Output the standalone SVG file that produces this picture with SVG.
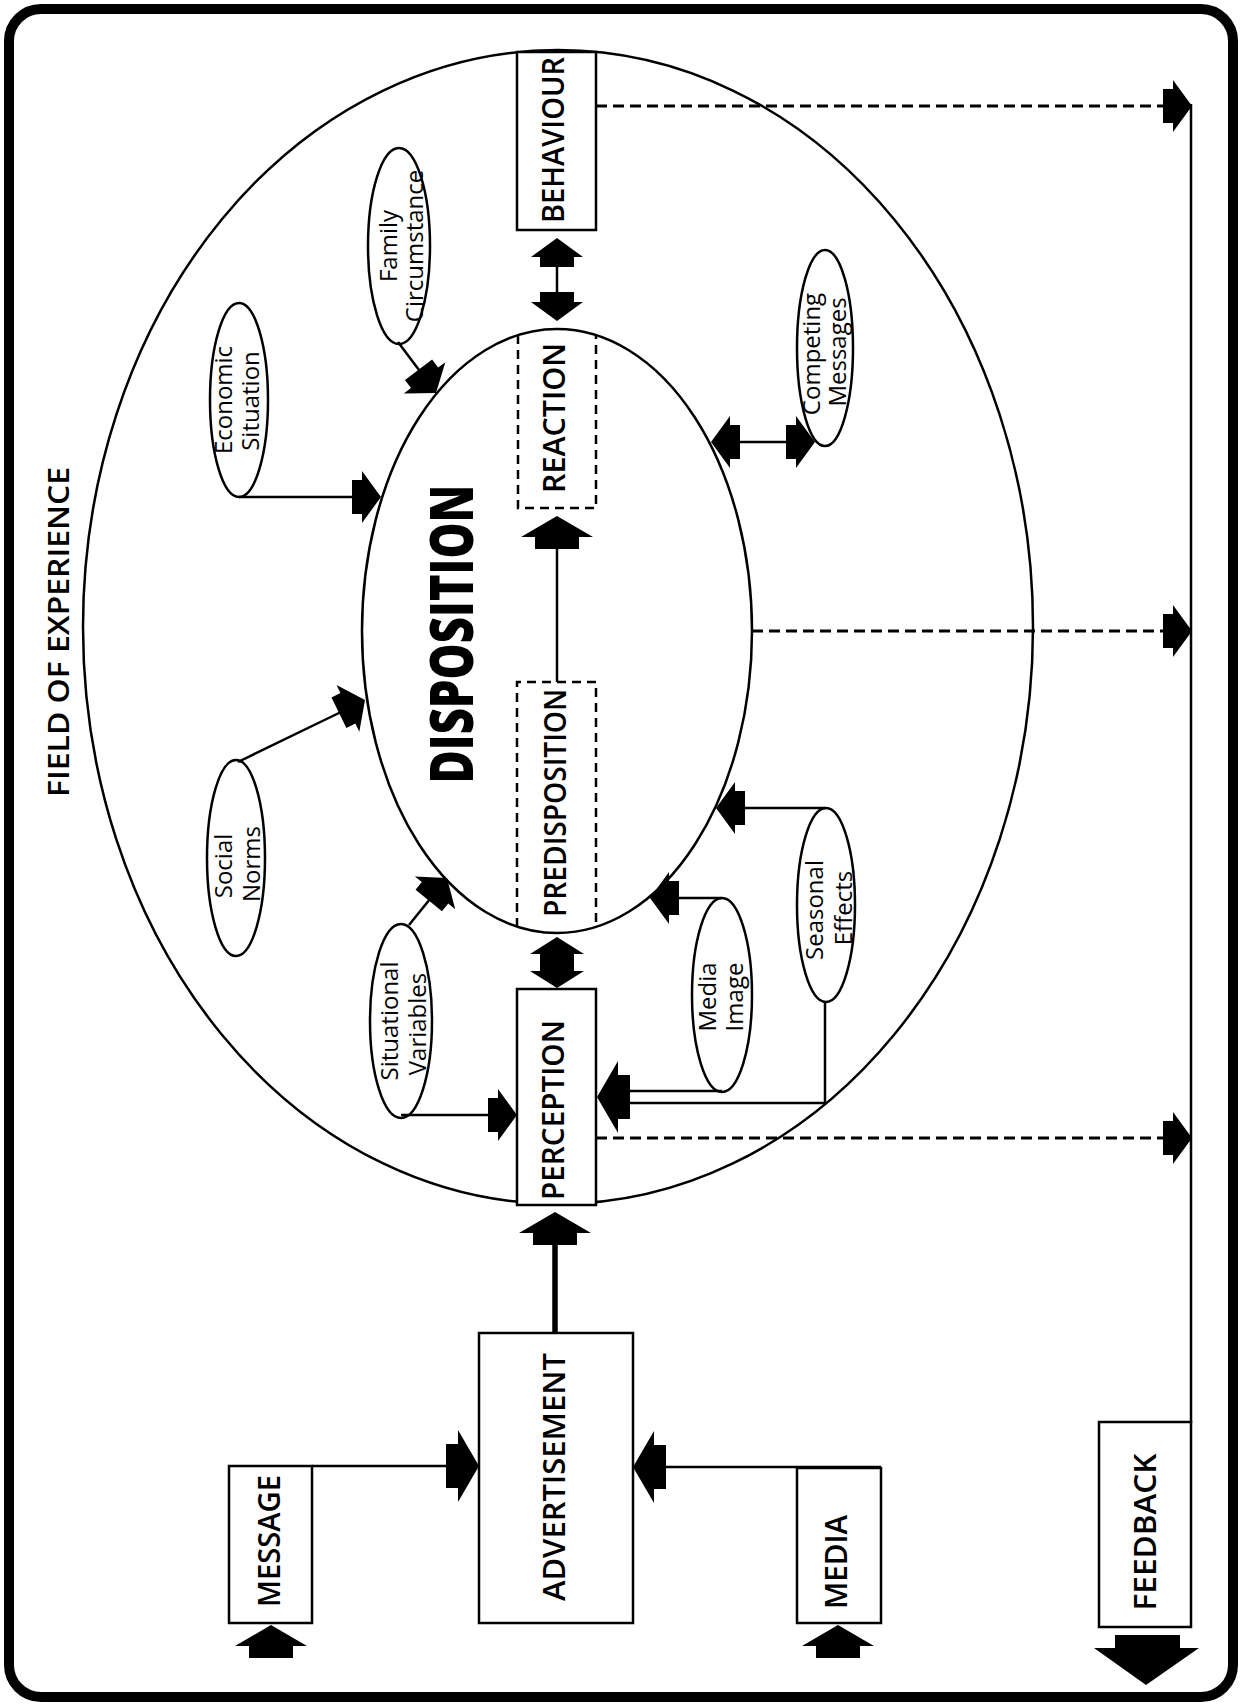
<svg xmlns="http://www.w3.org/2000/svg" xmlns:xlink="http://www.w3.org/1999/xlink" width="1247" height="1705" viewBox="0 0 1247 1705">
<style>
.bx{fill:#fff;stroke:#000;stroke-width:2.5}
.el{fill:#fff;stroke:#000;stroke-width:2.5}
.big{fill:none;stroke:#000;stroke-width:2.5}
.ln{fill:none;stroke:#000;stroke-width:2.5}
.dash{fill:none;stroke:#000;stroke-width:2.5;stroke-dasharray:9 6}
.fdash{fill:none;stroke:#000;stroke-width:3;stroke-dasharray:11 6}
.lbl{font-family:"Open Sans","Liberation Sans",sans-serif;font-weight:600;font-size:30px;fill:#000;text-anchor:middle}
.sm{font-family:"Open Sans","Liberation Sans",sans-serif;font-weight:400;font-size:24px;fill:#000;text-anchor:middle}
.ttl{font-family:"Open Sans","Liberation Sans",sans-serif;font-weight:600;font-size:28px;fill:#000;text-anchor:middle}
.dsp{font-family:"Open Sans","Liberation Sans",sans-serif;font-weight:800;font-size:60px;fill:#000;text-anchor:middle}
.ar{fill:#000}
</style>
<defs>
<path id="ah" d="M0,0 L-19,-26 L-19,-17 L-29,-17 L-29,17 L-19,17 L-19,26 Z"/>
<path id="ahL" d="M0,0 L-21,-36 L-21,-22 L-33,-22 L-33,22 L-21,22 L-21,36 Z"/>
</defs>
<rect x="0" y="0" width="1247" height="1705" fill="#fff"/>
<rect id="frame" x="9" y="9" width="1224" height="1688" rx="32" fill="none" stroke="#000" stroke-width="10"/>

<g id="field">
<ellipse class="big" cx="558" cy="627" rx="475" ry="577"/>
<text class="ttl" transform="translate(69,632) rotate(-90)" textLength="330" lengthAdjust="spacingAndGlyphs">FIELD OF EXPERIENCE</text>
</g>

<g id="disposition">
<ellipse class="el" cx="557" cy="631" rx="195" ry="302"/>
<text class="dsp" transform="translate(473,634) rotate(-90)" textLength="299" lengthAdjust="spacingAndGlyphs">DISPOSITION</text>
</g>

<g id="reaction">
<path class="dash" d="M518,335 V508 H596 V335"/>
<text class="lbl" transform="translate(565,418) rotate(-90)" textLength="150" lengthAdjust="spacingAndGlyphs">REACTION</text>
</g>

<g id="predisposition">
<path class="dash" d="M517,927 V682 H596 V927"/>
<text class="lbl" transform="translate(566,803) rotate(-90)" textLength="228" lengthAdjust="spacingAndGlyphs">PREDISPOSITION</text>
</g>

<g id="behaviour">
<rect class="bx" x="517" y="52" width="79" height="178"/>
<text class="lbl" transform="translate(564,140) rotate(-90)" textLength="166" lengthAdjust="spacingAndGlyphs">BEHAVIOUR</text>
</g>

<g id="perception">
<rect class="bx" x="517" y="989" width="79" height="216"/>
<text class="lbl" transform="translate(564,1110) rotate(-90)" textLength="180" lengthAdjust="spacingAndGlyphs">PERCEPTION</text>
</g>

<g id="advertisement">
<rect class="bx" x="479" y="1333" width="154" height="290"/>
<text class="lbl" transform="translate(565,1477) rotate(-90)" textLength="248" lengthAdjust="spacingAndGlyphs">ADVERTISEMENT</text>
</g>

<g id="message">
<rect class="bx" x="229" y="1466" width="83" height="157"/>
<text class="lbl" transform="translate(280,1541) rotate(-90)" textLength="132" lengthAdjust="spacingAndGlyphs">MESSAGE</text>
</g>

<g id="media">
<rect class="bx" x="797" y="1468" width="84" height="155"/>
<text class="lbl" transform="translate(847,1562) rotate(-90)" textLength="94" lengthAdjust="spacingAndGlyphs">MEDIA</text>
</g>

<g id="feedback">
<rect class="bx" x="1099" y="1422" width="92" height="205"/>
<text class="lbl" transform="translate(1156,1532) rotate(-90)" textLength="157" lengthAdjust="spacingAndGlyphs">FEEDBACK</text>
</g>

<g id="economic-situation">
<ellipse class="el" cx="239" cy="400" rx="29" ry="97"/>
<text class="sm" transform="translate(232,400) rotate(-90)">Economic</text>
<text class="sm" transform="translate(259,401) rotate(-90)">Situation</text>
</g>

<g id="family-circumstance">
<ellipse class="el" cx="399" cy="246" rx="31" ry="98"/>
<text class="sm" transform="translate(397,246) rotate(-90)">Family</text>
<text class="sm" transform="translate(423,246) rotate(-90)">Circumstance</text>
</g>

<g id="competing-messages">
<ellipse class="el" cx="825" cy="348" rx="28" ry="98"/>
<text class="sm" transform="translate(820,354) rotate(-90)">Competing</text>
<text class="sm" transform="translate(846,352) rotate(-90)">Messages</text>
</g>

<g id="social-norms">
<ellipse class="el" cx="236" cy="858" rx="29" ry="98"/>
<text class="sm" transform="translate(232,866) rotate(-90)">Social</text>
<text class="sm" transform="translate(260,864) rotate(-90)">Norms</text>
</g>

<g id="situational-variables">
<ellipse class="el" cx="401" cy="1021" rx="31" ry="97"/>
<text class="sm" transform="translate(398,1021) rotate(-90)">Situational</text>
<text class="sm" transform="translate(426,1024) rotate(-90)">Variables</text>
</g>

<g id="media-image">
<ellipse class="el" cx="722" cy="995" rx="30" ry="97"/>
<text class="sm" transform="translate(716,997) rotate(-90)">Media</text>
<text class="sm" transform="translate(743,997) rotate(-90)">Image</text>
</g>

<g id="seasonal-effects">
<ellipse class="el" cx="826" cy="905" rx="29" ry="97"/>
<text class="sm" transform="translate(823,910) rotate(-90)">Seasonal</text>
<text class="sm" transform="translate(852,908) rotate(-90)">Effects</text>
</g>

<g id="connectors">
<line class="ln" x1="557" y1="265" x2="557" y2="293"/>
<use href="#ah" class="ar" transform="translate(557,238) rotate(-90)"/>
<use href="#ah" class="ar" transform="translate(557,321) rotate(90)"/>
<line class="ln" x1="557" y1="548" x2="557" y2="682"/>
<use href="#ahL" class="ar" transform="translate(557,516) rotate(-90)"/>
<path class="ar" d="M557,937 L584,954 L574,954 L574,971 L584,971 L557,988 L530,971 L540,971 L540,954 L530,954 Z"/>
<line x1="555" y1="1244" x2="555" y2="1333" stroke="#000" stroke-width="5.5"/>
<use href="#ahL" class="ar" transform="translate(555,1212) rotate(-90)"/>
<line class="ln" x1="312" y1="1466" x2="447" y2="1466"/>
<use href="#ahL" class="ar" transform="translate(479,1466)"/>
<line class="ln" x1="881" y1="1467" x2="664" y2="1467"/>
<use href="#ahL" class="ar" transform="translate(633,1467) rotate(180)"/>
<use href="#ahL" class="ar" transform="translate(271,1625) rotate(-90)"/>
<use href="#ahL" class="ar" transform="translate(838,1625) rotate(-90)"/>
<line class="ln" x1="239" y1="497" x2="354" y2="497"/>
<use href="#ah" class="ar" transform="translate(381,497)"/>
<line class="ln" x1="398" y1="342" x2="419" y2="370"/>
<use href="#ah" class="ar" transform="translate(436,393) rotate(53)"/>
<line class="ln" x1="238" y1="762" x2="341" y2="712"/>
<use href="#ah" class="ar" transform="translate(365,700) rotate(-26)"/>
<line class="ln" x1="409" y1="925" x2="430" y2="899"/>
<use href="#ah" class="ar" transform="translate(447,878) rotate(-51)"/>
<line class="ln" x1="401" y1="1115" x2="492" y2="1115"/>
<use href="#ah" class="ar" transform="translate(517,1115)"/>
<line class="ln" x1="738" y1="442" x2="788" y2="442"/>
<use href="#ah" class="ar" transform="translate(711,442) rotate(180)"/>
<use href="#ah" class="ar" transform="translate(815,442)"/>
<line class="ln" x1="722" y1="898" x2="676" y2="898"/>
<use href="#ah" class="ar" transform="translate(650,898) rotate(180)"/>
<line class="ln" x1="826" y1="808" x2="742" y2="808"/>
<use href="#ah" class="ar" transform="translate(716,808) rotate(180)"/>
<polyline class="ln" points="722,1091 626,1091"/>
<polyline class="ln" points="825,1002 825,1103 626,1103"/>
<use href="#ahL" class="ar" transform="translate(597,1097) rotate(180)"/>
<line class="fdash" x1="596" y1="106" x2="1164" y2="106"/>
<line class="fdash" x1="752" y1="631" x2="1164" y2="631"/>
<line class="fdash" x1="596" y1="1138" x2="1164" y2="1138"/>
<use href="#ah" class="ar" transform="translate(1192,106)"/>
<use href="#ah" class="ar" transform="translate(1192,631)"/>
<use href="#ah" class="ar" transform="translate(1192,1138)"/>
<line class="ln" x1="1191" y1="104" x2="1191" y2="1423"/>
<path class="ar" d="M1115,1635 H1180 V1648 H1199 L1146,1685 L1094,1648 H1115 Z"/>
</g>
</svg>
